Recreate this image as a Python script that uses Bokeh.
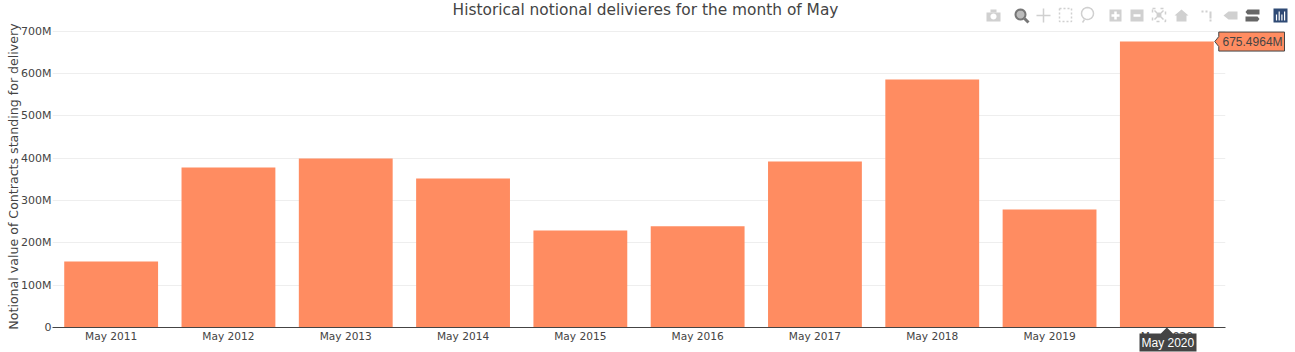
import math
from bokeh.plotting import figure
from bokeh.models import FactorRange, Range1d, FixedTicker
from bokeh.core.properties import value
from bokeh.embed import file_html
from bokeh.resources import INLINE

categories = ["May 2011", "May 2012", "May 2013", "May 2014", "May 2015",
              "May 2016", "May 2017", "May 2018", "May 2019", "May 2020"]
notional = [156e6, 378e6, 399e6, 352e6, 229e6, 239e6, 392e6, 586e6, 279e6, 675.4964e6]
y_ticks = [0, 100e6, 200e6, 300e6, 400e6, 500e6, 600e6, 700e6]
y_labels = ["0", "100M", "200M", "300M", "400M", "500M", "600M", "700M"]
title_text = "Historical notional delivieres for the month of May"
y_title = "Notional value of Contracts standing for delivery"
hover_value = "675.4964M"
hover_category = "May 2020"

W, H = 1295, 352
L, R, T, B = 52, 1225, 26, 327
Y_MAX = 711.05e6
FONT = "DejaVu Sans"
TIP_FONT = "Liberation Sans"
BAR = "#ff8c61"
INK = "#444444"

p = figure(width=W, height=H, output_backend="svg", toolbar_location=None,
           x_range=FactorRange(factors=categories, range_padding=0),
           y_range=Range1d(0, Y_MAX),
           min_border_left=L, min_border_right=W - R, min_border_top=T, min_border_bottom=H - B,
           outline_line_color=None, background_fill_color="white", border_fill_color="white")
p.vbar(x=categories, top=notional, width=0.8, color=BAR, line_color=None)

p.xgrid.visible = False
p.ygrid.grid_line_color = "#eeeeee"
p.ygrid.ticker = FixedTicker(ticks=y_ticks)
ax = p.xaxis[0]
ax.axis_line_color = INK
ax.major_tick_line_color = None
ax.minor_tick_line_color = None
ax.major_tick_out = 0
ax.major_label_text_font = FONT
ax.major_label_text_font_size = "10.6px"
ax.major_label_text_color = INK
ax.major_label_standoff = 2
ay = p.yaxis[0]
ay.ticker = FixedTicker(ticks=y_ticks)
ay.major_label_overrides = {t: s for t, s in zip(y_ticks, y_labels)}
ay.axis_line_color = None
ay.major_tick_line_color = None
ay.minor_tick_line_color = None
ay.major_tick_out = 0
ay.major_label_text_font = FONT
ay.major_label_text_font_size = "11px"
ay.major_label_text_color = INK
ay.major_label_standoff = 1

# transparent layer over the whole page for the title, hover callouts and mode bar
ov = figure(width=W, height=H, output_backend="svg", toolbar_location=None,
            x_range=Range1d(0, W), y_range=Range1d(H, 0), x_axis_type=None, y_axis_type=None,
            min_border=0, outline_line_color=None, margin=(-H, 0, 0, 0),
            background_fill_alpha=0, border_fill_alpha=0)
ov.grid.visible = False


def txt(x, y, text, size, color=INK, align="center", angle=0.0, font=FONT):
    ov.text([x], [y], text=[text], text_font=value(font), text_font_size=value(size),
            text_color=color, text_align=align, text_baseline="middle", angle=angle)


def poly(pts, fill=None, line=None, width=1.0, dash="solid"):
    xs = [a for a, _ in pts]
    ys = [b for _, b in pts]
    if fill:
        ov.patch(xs, ys, fill_color=fill, line_color=line, line_width=width)
    else:
        ov.line(xs + [xs[0]] if len(xs) > 2 else xs, ys + [ys[0]] if len(ys) > 2 else ys,
                line_color=line, line_width=width, line_dash=dash)


def rect(x0, y0, x1, y1, **k):
    poly([(x0, y0), (x1, y0), (x1, y1), (x0, y1)], **k)


def circle(cx, cy, r, **k):
    poly([(cx + r * math.cos(i * math.pi / 10), cy + r * math.sin(i * math.pi / 10)) for i in range(20)], **k)


txt(645, 9, title_text, "15.4px")
txt(13, 176, y_title, "12.6px", angle=math.pi / 2)

# hover callouts, placed through the same scale as the bars
top_px = B - notional[-1] / Y_MAX * (B - T)
band = (R - L) / len(categories)
right_edge = R - band * 0.1
poly([(right_edge + 1, top_px), (right_edge + 5, top_px - 5), (right_edge + 5, top_px - 9.5),
      (1284, top_px - 9.5), (1284, top_px + 9.5), (right_edge + 5, top_px + 9.5), (right_edge + 5, top_px + 5)],
     fill=BAR, line=INK)
txt(1222, top_px + 0.5, hover_value, "12px", align="left", font=TIP_FONT)
cx = R - band / 2
poly([(cx, B), (cx + 6, 333), (1196, 333), (1196, 351), (1139, 351), (1139, 333), (cx - 6, 333)], fill=INK)
txt(cx + 1, 342.5, hover_category, "12px", color="white", font=TIP_FONT)

# mode bar icons
G = "#d0d0d0"
D = "#777777"
rect(986, 12, 1000, 21, fill=G)
rect(990, 9, 996, 12, fill=G)
circle(993, 16, 3, fill="white")
circle(1020, 14, 5, fill="#bbbbbb", line=D, width=2)
poly([(1024, 18), (1028, 22)], line=D, width=3)
poly([(1043, 8), (1043, 22)], line=G, width=1.5)
poly([(1036, 15), (1050, 15)], line=G, width=1.5)
rect(1059, 8, 1071, 21, line=G, width=1.5, dash="2 2")
circle(1087, 13, 6, line=G, width=1.5)
poly([(1084, 19), (1082, 22)], line=G, width=1.5)
rect(1109, 9, 1121, 21, fill=G)
poly([(1115, 11), (1115, 19)], line="white", width=2.5)
poly([(1111, 15), (1119, 15)], line="white", width=2.5)
rect(1130, 9, 1143, 21, fill=G)
poly([(1133, 15), (1140, 15)], line="white", width=2.5)
rect(1152, 8, 1165, 21, line=G, width=1.5, dash="3 5")
poly([(1154, 10), (1163, 19)], line=G, width=1.5)
poly([(1163, 10), (1154, 19)], line=G, width=1.5)
circle(1158.5, 14.5, 2.5, fill=G)
poly([(1174, 15), (1181, 9), (1188, 15), (1186, 15), (1186, 21), (1176, 21), (1176, 15)], fill=G)
rect(1209, 11, 1211, 18, fill=G)
rect(1209, 19, 1211, 21, fill=G)
rect(1201, 10, 1203, 12, fill=G)
rect(1205, 10, 1207, 12, fill=G)
poly([(1223, 15), (1228, 11), (1237, 11), (1237, 19), (1228, 19)], fill=G)
poly([(1247, 9), (1259, 9), (1259, 14), (1247, 14), (1245, 11.5)], fill="#666666")
poly([(1245, 16), (1257, 16), (1259, 18.5), (1257, 21), (1245, 21)], fill="#666666")
rect(1273, 8, 1287, 22, fill="#2f4a75")
for k, h0 in enumerate([14, 11, 14, 11]):
    poly([(1276 + k * 2.7, h0), (1276 + k * 2.7, 20)], line="white", width=1.2)

open("out.html", "w").write(file_html([p, ov], INLINE))
